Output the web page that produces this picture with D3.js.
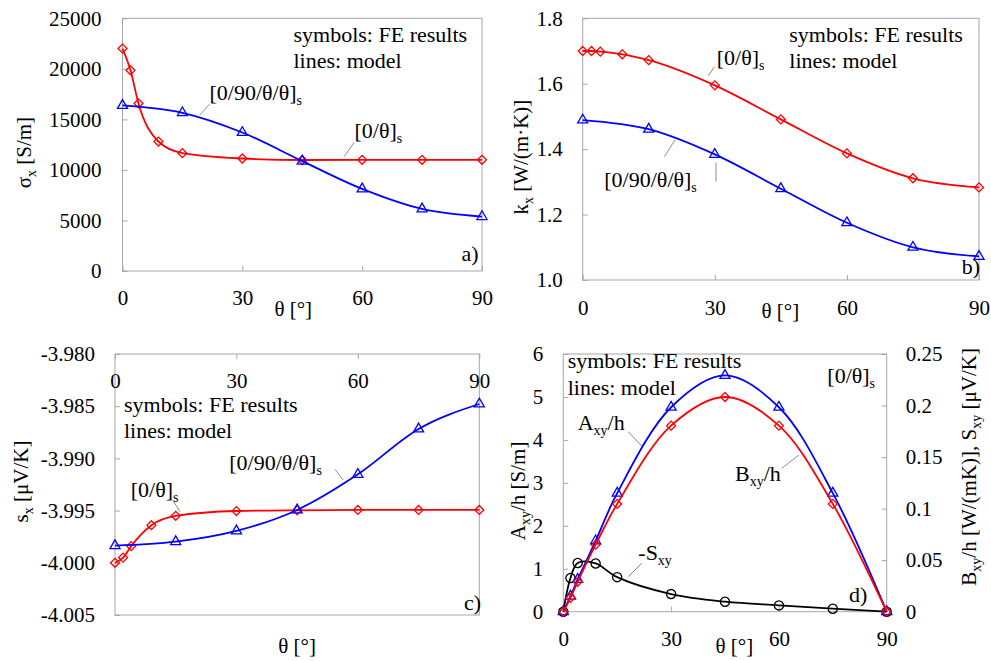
<!DOCTYPE html>
<html>
<head>
<meta charset="utf-8">
<style>
    body { margin: 0; background: #fff; }
    svg { display: block; }
    svg text { font-family: 'Liberation Serif', 'DejaVu Serif', 'Times New Roman', serif; }
    .frame { fill: none; stroke: #a6a6a6; stroke-width: 1; }
    .axis .tick line { stroke: #a6a6a6; }
    .axis .tick text { font-size: 21px; fill: #000; }
    .axis .domain { display: none; }
    .note { font-size: 22px; fill: #000; }
    .title { font-size: 21px; fill: #000; }
    .leader { stroke: #8c8c8c; stroke-width: 1; }
</style>
</head>
<body>
<svg width="991" height="661"></svg>
<script src="https://d3js.org/d3.v7.min.js"></script>
<script>
// angles of the FE results
const theta0t = [0, 2, 4, 9, 15, 30, 45, 60, 75, 90]
const theta090 = [0, 15, 30, 45, 60, 75, 90]

// a) sigma_x [S/m]
const sigma0t = [22000, 19850, 16580, 12810, 11660, 11130, 10980, 11000, 11000, 11000]
const sigma090 = [16380, 15650, 13700, 10870, 8120, 6140, 5380]

// b) k_x [W/(m K)]
const k0t = [1.700, 1.700, 1.698, 1.690, 1.672, 1.595, 1.491, 1.387, 1.311, 1.283]
const k090 = [1.489, 1.461, 1.384, 1.279, 1.175, 1.100, 1.072]

// c) s_x [uV/K]
const s0t = [-4.0000, -3.9995, -3.9984, -3.9964, -3.9955, -3.99504, -3.99497, -3.99494, -3.99494, -3.99494]
const s090 = [-3.99836, -3.99798, -3.99695, -3.99494, -3.99153, -3.98718, -3.98479]

// d) [0/theta]s off-diagonal terms
const axy = [0, 0.36, 0.75, 1.65, 2.76, 4.76, 5.5, 4.76, 2.76, 0]
const bxy = [0, 0.0135, 0.029, 0.065, 0.1046, 0.1805, 0.2083, 0.1805, 0.1046, 0]
const negSxy = [0, 0.0327, 0.0473, 0.0468, 0.0335, 0.0171, 0.0097, 0.0061, 0.0029, 0]

// tick labels
const xTicks = [0, 30, 60, 90]
const sigmaTicks = [0, 5000, 10000, 15000, 20000, 25000]
const kTicks = [1.0, 1.2, 1.4, 1.6, 1.8]
const sTicks = [-4.005, -4.000, -3.995, -3.990, -3.985, -3.980]
const axyTicks = [0, 1, 2, 3, 4, 5, 6]
const bxyTicks = [0, 0.05, 0.1, 0.15, 0.2, 0.25]

const RED = "#ff0000"
const BLUE = "#0000ff"

let svg = d3.select("svg")

// text with subscripts: parts starting with "_" are subscripts
function rich(g, x, y, parts, cls, rotate) {
    let t = g.append("text").attr("class", cls).attr("x", x).attr("y", y)
    if (rotate) t.attr("text-anchor", "middle").attr("transform", `rotate(-90,${x},${y})`)
    let down = false
    parts.forEach(p => {
        let sub = p.startsWith("_")
        let ts = t.append("tspan").text(sub ? p.slice(1) : p)
        if (sub) {
            ts.attr("font-size", 14)
            if (!down) ts.attr("dy", 5)
            down = true
        } else if (down) {
            ts.attr("dy", -5)
            down = false
        }
    })
    return t
}

function leader(g, x1, y1, x2, y2) {
    g.append("line").attr("class", "leader")
        .attr("x1", x1).attr("y1", y1).attr("x2", x2).attr("y2", y2)
}

function marker(kind) {
    if (kind == "diamond") return d3.symbol(d3.symbolSquare, 40)()
    if (kind == "triangle") return d3.symbol(d3.symbolTriangle, 44)()
    return d3.symbol(d3.symbolCircle, 66)()
}

function series(g, x, y, xs, ys, color, kind, curve) {
    let pts = xs.map((t, i) => [t, ys[i]])
    g.append("path")
        .attr("d", d3.line().x(d => x(d[0])).y(d => y(d[1])).curve(curve)(pts))
        .attr("fill", "none")
        .attr("stroke", color)
        .attr("stroke-width", 1.8)
    g.selectAll(null)
        .data(pts)
        .join("path")
        .attr("d", marker(kind))
        .attr("transform", d => `translate(${x(d[0])},${y(d[1])})` + (kind == "diamond" ? " rotate(45)" : ""))
        .attr("fill", "none")
        .attr("stroke", color)
        .attr("stroke-width", 1.3)
}

function panel(box, yDomain) {
    let g = svg.append("g").attr("transform", `translate(${box.left},${box.top})`)
    let w = box.right - box.left
    let h = box.bottom - box.top
    let x = d3.scaleLinear().domain([0, 90]).range([0, w])
    let y = d3.scaleLinear().domain(yDomain).range([h, 0])
    g.append("rect").attr("class", "frame").attr("width", w).attr("height", h)
    return {g, x, y, w, h}
}

function axisG(g) {
    return g.append("g").attr("class", "axis").attr("font-family", null).attr("font-size", null)
}

// ---------- a) ----------
{
    let p = panel({left: 122.5, top: 18.3, right: 482, bottom: 271}, [0, 25000])
    axisG(p.g)
        .call(d3.axisLeft(p.y).tickValues(sigmaTicks).tickSizeInner(-5).tickSizeOuter(0)
            .tickPadding(21).tickFormat(d3.format("d")))
    axisG(p.g).attr("transform", `translate(0,${p.h})`)
        .call(d3.axisBottom(p.x).tickValues(xTicks).tickSizeInner(-5).tickSizeOuter(0).tickPadding(19))
    series(p.g, p.x, p.y, theta0t, sigma0t, RED, "diamond", d3.curveMonotoneX)
    series(p.g, p.x, p.y, theta090, sigma090, BLUE, "triangle", d3.curveMonotoneX)
    rich(p.g, 171, 24, ["symbols: FE results"], "note")
    rich(p.g, 171, 50, ["lines: model"], "note")
    rich(p.g, 87, 82, ["[0/90/θ/θ]", "_s"], "note")
    leader(p.g, 77, 97, 87, 86)
    rich(p.g, 232, 120, ["[0/θ]", "_s"], "note")
    leader(p.g, 221.5, 138.4, 231.5, 124.4)
    rich(p.g, 339, 243, ["a)"], "note").attr("font-size", 18)
    rich(p.g, p.w / 2 - 9, 298, ["θ [°]"], "title").attr("text-anchor", "middle")
    rich(p.g, -91, p.h / 2 + 8, ["σ", "_x", " [S/m]"], "title", true)
}

// ---------- b) ----------
{
    let p = panel({left: 582.7, top: 18.3, right: 979, bottom: 280}, [1.0, 1.8])
    axisG(p.g)
        .call(d3.axisLeft(p.y).tickValues(kTicks).tickSizeInner(-5).tickSizeOuter(0)
            .tickPadding(20).tickFormat(d3.format(".1f")))
    axisG(p.g).attr("transform", `translate(0,${p.h})`)
        .call(d3.axisBottom(p.x).tickValues(xTicks).tickSizeInner(-5).tickSizeOuter(0).tickPadding(20))
    series(p.g, p.x, p.y, theta0t, k0t, RED, "diamond", d3.curveMonotoneX)
    series(p.g, p.x, p.y, theta090, k090, BLUE, "triangle", d3.curveMonotoneX)
    rich(p.g, 206.6, 23.4, ["symbols: FE results"], "note")
    rich(p.g, 206.6, 49.4, ["lines: model"], "note")
    rich(p.g, 134, 46.7, ["[0/θ]", "_s"], "note")
    leader(p.g, 125.6, 57.7, 131.6, 48.4)
    rich(p.g, 21.6, 168.4, ["[0/90/θ/θ]", "_s"], "note")
    leader(p.g, 81.6, 138.4, 92.3, 121.7)
    leader(p.g, 133.3, 144.4, 133.3, 163.4)
    rich(p.g, 379, 255.7, ["b)"], "note").attr("font-size", 18)
    rich(p.g, p.w / 2 - 0.5, 300, ["θ [°]"], "title").attr("text-anchor", "middle")
    rich(p.g, -54.7, p.h / 2 + 8, ["k", "_x", " [W/(m·K)]"], "title", true)
}

// ---------- c) ----------
{
    let p = panel({left: 115, top: 354, right: 479.3, bottom: 615}, [-4.005, -3.980])
    axisG(p.g)
        .call(d3.axisLeft(p.y).tickValues(sTicks).tickSizeInner(-5).tickSizeOuter(0)
            .tickPadding(20).tickFormat(d => d.toFixed(3)))
    axisG(p.g)
        .call(d3.axisBottom(p.x).tickValues(xTicks).tickSizeInner(5).tickSizeOuter(0).tickPadding(14))
    series(p.g, p.x, p.y, theta0t, s0t, RED, "diamond", d3.curveMonotoneX)
    series(p.g, p.x, p.y, theta090, s090, BLUE, "triangle", d3.curveMonotoneX)
    rich(p.g, 9, 57.7, ["symbols: FE results"], "note")
    rich(p.g, 9, 84.3, ["lines: model"], "note")
    rich(p.g, 114.3, 116, ["[0/90/θ/θ]", "_s"], "note")
    leader(p.g, 220, 115.3, 228.3, 126)
    rich(p.g, 15.7, 142.7, ["[0/θ]", "_s"], "note")
    leader(p.g, 57.7, 146, 65, 157.7)
    rich(p.g, 349, 256, ["c)"], "note").attr("font-size", 18)
    rich(p.g, p.w / 2 - 0, 299, ["θ [°]"], "title").attr("text-anchor", "middle")
    rich(p.g, -87, p.h / 2 - 3, ["s", "_x", " [μV/K]"], "title", true)
}

// ---------- d) ----------
{
    let p = panel({left: 563.3, top: 354, right: 886.7, bottom: 611.7}, [0, 6])
    let y2 = d3.scaleLinear().domain([0, 0.25]).range([p.h, 0])
    axisG(p.g)
        .call(d3.axisLeft(p.y).tickValues(axyTicks).tickSizeInner(-5).tickSizeOuter(0)
            .tickPadding(20).tickFormat(d3.format("d")))
    axisG(p.g).attr("transform", `translate(${p.w},0)`)
        .call(d3.axisRight(y2).tickValues(bxyTicks).tickSizeInner(-5).tickSizeOuter(0)
            .tickPadding(19).tickFormat(d => String(d)))
    axisG(p.g).attr("transform", `translate(0,${p.h})`)
        .call(d3.axisBottom(p.x).tickValues(xTicks).tickSizeInner(-5).tickSizeOuter(0).tickPadding(19))
    series(p.g, p.x, y2, theta0t, negSxy, "#000", "circle", d3.curveCatmullRom)
    series(p.g, p.x, p.y, theta0t, axy, BLUE, "triangle", d3.curveCatmullRom)
    series(p.g, p.x, y2, theta0t, bxy, RED, "diamond", d3.curveCatmullRom)
    rich(p.g, 4.4, 14.3, ["symbols: FE results"], "note")
    rich(p.g, 4.4, 41, ["lines: model"], "note")
    rich(p.g, 264, 29.3, ["[0/θ]", "_s"], "note")
    rich(p.g, 14.4, 76, ["A", "_xy", "/h"], "note")
    leader(p.g, 65, 77.7, 78.4, 92)
    rich(p.g, 171.7, 126.7, ["B", "_xy", "/h"], "note")
    leader(p.g, 218.4, 114.3, 235.7, 101)
    rich(p.g, 75, 206, ["-S", "_xy"], "note")
    leader(p.g, 65, 222.7, 78.4, 209.3)
    rich(p.g, 285.7, 247.7, ["d)"], "note").attr("font-size", 18)
    rich(p.g, 171, 299, ["θ [°]"], "title").attr("text-anchor", "middle")
    rich(p.g, -38, p.h / 2 + 8, ["A", "_xy", "/h [S/m]"], "title", true)
    rich(p.g, p.w + 89, p.h / 2 - 16, ["B", "_xy", "/h [W/(mK)], S", "_xy", " [μV/K]"], "title", true)
}
</script>
</body>
</html>
